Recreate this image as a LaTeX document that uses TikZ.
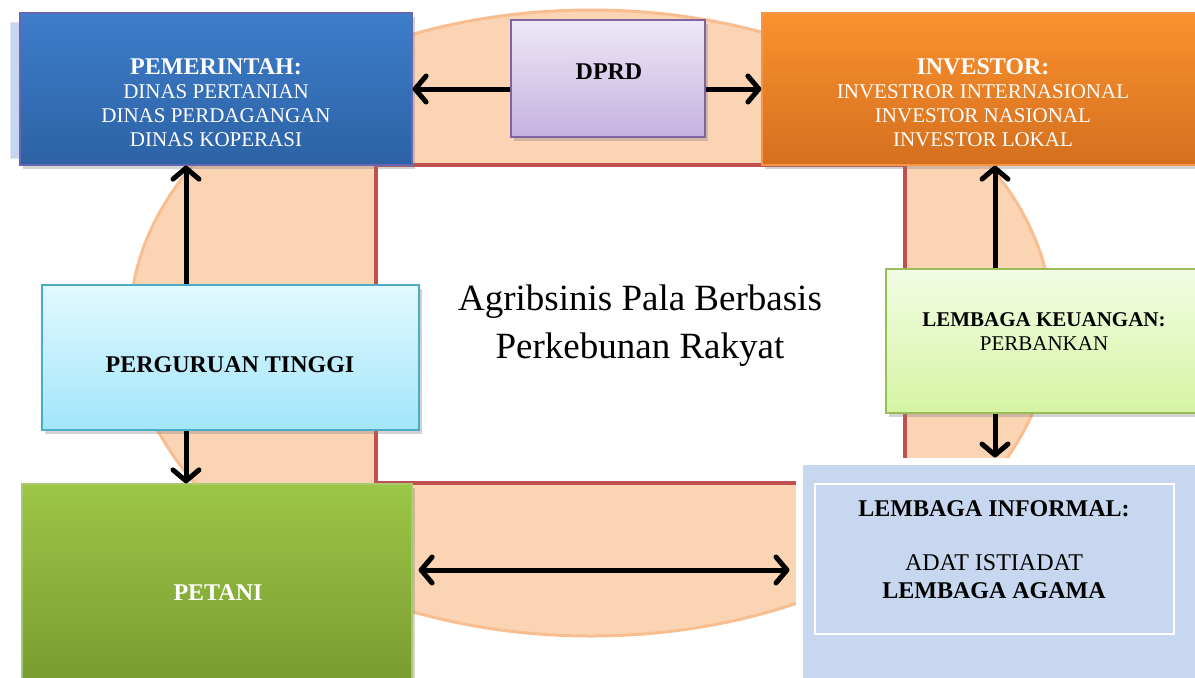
\documentclass[tikz,border=0pt]{standalone}
\usepackage{fontspec}
\setmainfont{Liberation Serif}
\usetikzlibrary{arrows.meta}
\usetikzlibrary{shadows}

\definecolor{peach}{HTML}{FBD4B4}
\definecolor{peachline}{HTML}{F9BE8F}
\definecolor{redline}{HTML}{C0504D}
\definecolor{paleblue}{HTML}{C6D6EE}

\tikzset{
  box/.style={rectangle, draw, line width=0.6pt,
    drop shadow={opacity=0.35, shadow xshift=1.5pt, shadow yshift=-2pt}},
  boxtext/.style={align=center, font=\fontsize{10.5}{12}\selectfont},
  headtext/.style={align=center, font=\fontsize{12}{14}\selectfont\bfseries},
  link/.style={line width=2.5pt, -{Straight Barb[length=5.5pt, width=13pt, round]}},
  link2/.style={line width=2.5pt, {Straight Barb[length=5.5pt, width=13pt, round]}-{Straight Barb[length=5.5pt, width=13pt, round]}},
}

\begin{document}
\begin{tikzpicture}[x=0.5pt, y=-0.5pt]
\useasboundingbox (0,0) rectangle (1195,677);
% ring
\draw [peachline, fill=peach, line width=1.5pt] (591,323) ellipse [x radius=230.5pt, y radius=156.5pt];
\draw [redline, fill=white, line width=2pt] (376,165) rectangle (905,483);
\node (judul) at (640,326) [align=center, font=\fontsize{18.5}{24}\selectfont]
  {Agribsinis Pala Berbasis\\Perkebunan Rakyat};
% boxes
\draw [paleblue!60, fill=paleblue, line width=0.5pt] (10,22) rectangle (400,158);
\node (pem) at (216,89) [box, draw=blue!50!black!60, top color={rgb,255:red,61;green,125;blue,202},
  bottom color={rgb,255:red,45;green,98;blue,165}, minimum width=196pt, minimum height=76pt] {};
\node (dprd) at (608,78.5) [box, draw={rgb,255:red,128;green,100;blue,162}, top color={rgb,255:red,238;green,232;blue,247},
  bottom color={rgb,255:red,196;green,178;blue,224}, minimum width=97pt, minimum height=58.5pt] {};
\node (inv) at (981,89) [box, draw={rgb,255:red,247;green,150;blue,70}, top color={rgb,255:red,251;green,145;blue,46},
  bottom color={rgb,255:red,212;green,111;blue,30}, minimum width=219pt, minimum height=76pt] {};
\node (keu) at (1043,341) [box, draw={rgb,255:red,155;green,187;blue,89}, top color={rgb,255:red,243;green,252;blue,228},
  bottom color={rgb,255:red,213;green,244;blue,162}, minimum width=157pt, minimum height=72pt] {};
\node (pt) at (230.5,357.5) [box, draw={rgb,255:red,75;green,172;blue,198}, top color={rgb,255:red,226;green,248;blue,255},
  bottom color={rgb,255:red,162;green,230;blue,250}, minimum width=188.5pt, minimum height=72.5pt] {};
\node (pet) at (217,587) [box, draw={rgb,255:red,170;green,200;blue,110}, top color={rgb,255:red,156;green,198;blue,70},
  bottom color={rgb,255:red,119;green,154;blue,48}, minimum width=195pt, minimum height=103pt] {};
\node (inf) at (999.5,575.5) [rectangle, draw=white, line width=3.5pt,
  fill={rgb,255:red,198;green,215;blue,239}, minimum width=200.5pt, minimum height=114.5pt] {};
\draw [white, line width=0.6pt] (815,484) rectangle (1174,634);
% texts
\node (pemtext) at (216,103) [boxtext, white]
  {{\fontsize{12}{12}\bfseries PEMERINTAH:}\\DINAS PERTANIAN\\DINAS PERDAGANGAN\\DINAS KOPERASI};
\node (dprdtext) at (609,72) [headtext] {DPRD};
\node (invtext) at (983,103) [boxtext, white]
  {{\fontsize{12}{12}\bfseries INVESTOR:}\\INVESTROR INTERNASIONAL\\INVESTOR NASIONAL\\INVESTOR LOKAL};
\node (keutext) at (1044,332) [boxtext] {\textbf{LEMBAGA KEUANGAN:}\\PERBANKAN};
\node (pttext) at (230,365) [headtext] {PERGURUAN TINGGI};
\node (pettext) at (218,593) [headtext, white] {PETANI};
\node (inftext) at (994,550) [align=center, font=\fontsize{12}{14}\selectfont]
  {\textbf{LEMBAGA INFORMAL:}\\[13pt]ADAT ISTIADAT\\\textbf{LEMBAGA AGAMA}};
% links
\coordinate (ytop) at (0,89);
\coordinate (ybot) at (0,570);
\coordinate (xkiri) at (186,0);
\coordinate (xkanan) at (995,0);
\draw [link] (dprd.west |- ytop) -- (pem.east |- ytop);
\draw [link] (dprd.east |- ytop) -- (inv.west |- ytop);
\draw [link] (pt.north -| xkiri) -- (pem.south -| xkiri);
\draw [link] (pt.south -| xkiri) -- (pet.north -| xkiri);
\draw [link] (keu.north -| xkanan) -- (inv.south -| xkanan);
\draw [link] (keu.south -| xkanan) -- (inf.north -| xkanan);
\draw [link2, shorten <=3pt, shorten >=3pt] (pet.east |- ybot) -- (inf.west |- ybot);
\end{tikzpicture}
\end{document}
